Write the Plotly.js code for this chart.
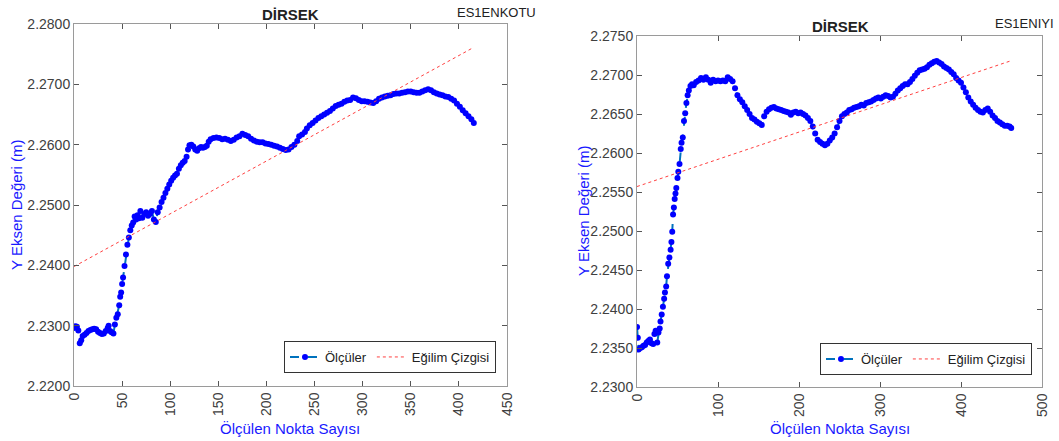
<!DOCTYPE html>
<html>
<head>
<meta charset="utf-8">
<script src="https://cdn.plot.ly/plotly-3.0.1.min.js"></script>
<style>html,body{margin:0;padding:0;background:#fff;}#chart{width:1059px;height:441px;}</style>
</head>
<body>
<div id="chart"></div>
<script>
// ---- Left chart (ES1ENKOTU) ----
const leftX = [0,1.5,3,4.5,6,7.5,9,11,13,15,17,19,21,23,25,27,29,31,33,35,36,37.5,39,41,42.5,44,45.5,47,48,49,50,51,52.5,54,55.5,57,58.5,60,61.5,63,64.5,66,67.5,69,71,73,75,77,79,81,83,85,87,89,91,93,95,97,99,101,103,105,107,109,111,113,115,117,118.5,120,122,124,126,128,130,132,134,136,138,140,142,145,148,151,154,157,160,163,166,169,172,175,178,181,184,187,190,193,196,199,202,205,208,211,214,217,220,223,226,229,232,234,237,240,242,245,248,251,254,257,260,263,266,269,272,275,278,281,284,287,290,293,296,299,302,305,308,311,314,317,320,323,326,329,332,335,338,341,344,347,350,353,356,359,362,365,368,371,374,377,380,383,386,389,392,395,398,401,404,407,410,413,415.5];
const leftY = [2.2296,2.2299,2.2298,2.2292,2.2271,2.2276,2.2283,2.2285,2.2288,2.2291,2.2293,2.2294,2.2295,2.2294,2.2290,2.2288,2.2286,2.2287,2.2291,2.2296,2.2300,2.2291,2.2289,2.2287,2.2302,2.2313,2.2319,2.2334,2.2348,2.2355,2.2369,2.2380,2.2399,2.2418,2.2434,2.2446,2.2458,2.2466,2.2471,2.2481,2.2476,2.2483,2.2478,2.2490,2.2479,2.2485,2.2488,2.2482,2.2485,2.2490,2.2476,2.2472,2.2488,2.2496,2.2505,2.2512,2.2520,2.2527,2.2534,2.2540,2.2545,2.2549,2.2552,2.2560,2.2566,2.2570,2.2573,2.2580,2.2592,2.2599,2.2600,2.2597,2.2592,2.2590,2.2594,2.2596,2.2595,2.2596,2.2598,2.2605,2.2609,2.2611,2.2612,2.2611,2.2609,2.2610,2.2608,2.2606,2.2608,2.2612,2.2614,2.2618,2.2616,2.2614,2.2610,2.2607,2.2605,2.2604,2.2604,2.2602,2.2601,2.2600,2.2598,2.2597,2.2595,2.2593,2.2591,2.2592,2.2596,2.2600,2.2606,2.2614,2.2617,2.2621,2.2627,2.2632,2.2636,2.2640,2.2644,2.2647,2.2650,2.2653,2.2656,2.2660,2.2664,2.2666,2.2668,2.2671,2.2673,2.2674,2.2678,2.2677,2.2674,2.2672,2.2672,2.2671,2.2670,2.2669,2.2672,2.2676,2.2678,2.2680,2.2681,2.2682,2.2684,2.2685,2.2685,2.2686,2.2687,2.2688,2.2688,2.2687,2.2686,2.2686,2.2688,2.2690,2.2692,2.2690,2.2687,2.2685,2.2683,2.2682,2.2680,2.2679,2.2676,2.2673,2.2668,2.2663,2.2657,2.2652,2.2647,2.2642,2.2636];
const leftTrendX = [0, 414];
const leftTrendY = [2.2398, 2.2760];
const leftYTicks = [2.22,2.23,2.24,2.25,2.26,2.27,2.28];
const leftXTicks = [0,50,100,150,200,250,300,350,400,450];

// ---- Right chart (ES1ENIYI) ----
const rightX = [0,1,2,4,6,8,10,12,14,16,18,20,21.5,23,25,26.5,28,29,30.5,32,33.5,34.5,36,37,38.5,40,41.5,42.5,43.5,44.5,45.5,46.5,47.5,48.5,50,51,52.5,54,55,56.5,58,59.5,61,62.5,64,66,68,70,73,76,79,82,85,88,91,94,97,100,103,106,109,112,115,118,121,124,127,130,133,136,139,142,145,148,151,154,157,160,163,166,169,172,175,178,181,184,187,190,193,196,199,202,205,208,211,214,217,220,223,226,229,232,235,238,241,244,247,250,253,256,259,262,265,268,271,274,277,280,283,286,289,292,295,298,301,304,307,310,313,316,319,322,325,328,331,334,337,340,343,346,349,352,355,358,361,364,367,370,373,376,379,382,385,388,391,394,397,400,403,406,409,412,415,418,421,424,427,430,433,436,439,442,445,448,451,454,457,460,462];
const rightY = [2.2377,2.2363,2.2348,2.2350,2.2351,2.2353,2.2354,2.2357,2.2359,2.2361,2.2356,2.2355,2.2368,2.2372,2.2357,2.2370,2.2375,2.2384,2.2393,2.2403,2.2413,2.2421,2.2429,2.2442,2.2458,2.2466,2.2476,2.2486,2.2499,2.2521,2.2530,2.2541,2.2548,2.2555,2.2568,2.2576,2.2586,2.2605,2.2613,2.2620,2.2641,2.2651,2.2664,2.2674,2.2680,2.2686,2.2688,2.2687,2.2691,2.2693,2.2696,2.2694,2.2697,2.2694,2.2690,2.2694,2.2692,2.2693,2.2692,2.2693,2.2692,2.2697,2.2695,2.2692,2.2683,2.2674,2.2669,2.2665,2.2660,2.2655,2.2650,2.2645,2.2643,2.2640,2.2638,2.2636,2.2647,2.2653,2.2656,2.2658,2.2659,2.2657,2.2656,2.2655,2.2654,2.2653,2.2652,2.2649,2.2652,2.2653,2.2651,2.2652,2.2650,2.2648,2.2645,2.2641,2.2634,2.2625,2.2617,2.2614,2.2612,2.2610,2.2612,2.2616,2.2620,2.2625,2.2633,2.2641,2.2647,2.2650,2.2652,2.2655,2.2656,2.2658,2.2659,2.2660,2.2662,2.2661,2.2664,2.2665,2.2666,2.2668,2.2670,2.2671,2.2670,2.2672,2.2674,2.2673,2.2671,2.2672,2.2676,2.2680,2.2683,2.2686,2.2688,2.2688,2.2691,2.2695,2.2699,2.2703,2.2706,2.2707,2.2708,2.2710,2.2713,2.2715,2.2717,2.2718,2.2716,2.2714,2.2711,2.2709,2.2707,2.2704,2.2701,2.2696,2.2693,2.2690,2.2684,2.2678,2.2671,2.2666,2.2662,2.2658,2.2655,2.2653,2.2652,2.2655,2.2657,2.2653,2.2648,2.2645,2.2641,2.2639,2.2637,2.2635,2.2635,2.2634,2.2632];
const rightTrendX = [0, 461];
const rightTrendY = [2.2557, 2.2718];
const rightYTicks = [2.23,2.235,2.24,2.245,2.25,2.255,2.26,2.265,2.27,2.275];
const rightXTicks = [0,100,200,300,400,500];

const FONT = 'Arial, "Liberation Sans", sans-serif';
const measName = 'Ölçüler';
const trendName = 'Eğilim Çizgisi';

function measTrace(x, y, xa, ya, lg) {
  return {x:x, y:y, xaxis:xa, yaxis:ya, legend:lg, type:'scatter', mode:'lines+markers', name:measName,
    line:{color:'#0072BD', width:2, dash:'dash'}, marker:{color:'#0000FF', size:6}};
}
function trendTrace(x, y, xa, ya, lg) {
  return {x:x, y:y, xaxis:xa, yaxis:ya, legend:lg, type:'scatter', mode:'lines', name:trendName,
    line:{color:'#FF4040', width:1, dash:'dot'}};
}

const data = [
  measTrace(leftX, leftY, 'x', 'y', 'legend'),
  trendTrace(leftTrendX, leftTrendY, 'x', 'y', 'legend'),
  measTrace(rightX, rightY, 'x2', 'y2', 'legend2'),
  trendTrace(rightTrendX, rightTrendY, 'x2', 'y2', 'legend2')
];

const W = 1059, H = 441;
function px(v){return v/W;}
function py(v){return 1 - v/H;}

const axisBase = {showgrid:false, zeroline:false, showline:true, mirror:'ticks', linecolor:'#9a9a9a', linewidth:1,
  ticks:'inside', ticklen:5, tickcolor:'#555', tickfont:{family:FONT, size:14, color:'#404040'}};

function ann(text, x, y, size, color, extra) {
  return Object.assign({text:text, x:px(x), y:py(y), xref:'paper', yref:'paper', xanchor:'center', yanchor:'middle',
    showarrow:false, font:{family:FONT, size:size, color:color}}, extra || {});
}

const layout = {
  width:W, height:H, margin:{l:0,r:0,t:0,b:0}, paper_bgcolor:'#fff', plot_bgcolor:'#fff',
  font:{family:FONT},
  xaxis: Object.assign({}, axisBase, {domain:[px(74), px(507)], range:[0,450], tickvals:leftXTicks, ticktext:leftXTicks.map(String), tickangle:-90, anchor:'y'}),
  yaxis: Object.assign({}, axisBase, {domain:[py(386), py(24)], range:[2.22,2.28], tickvals:leftYTicks, ticktext:leftYTicks.map(v=>v.toFixed(4)), anchor:'x'}),
  xaxis2: Object.assign({}, axisBase, {domain:[px(637), px(1042)], range:[0,500], tickvals:rightXTicks, ticktext:rightXTicks.map(String), tickangle:-90, anchor:'y2'}),
  yaxis2: Object.assign({}, axisBase, {domain:[py(387), py(36)], range:[2.23,2.275], tickvals:rightYTicks, ticktext:rightYTicks.map(v=>v.toFixed(4)), anchor:'x2'}),
  legend: {x:px(496), y:py(373), xanchor:'right', yanchor:'bottom', orientation:'h', bgcolor:'#fff', bordercolor:'#333', borderwidth:1,
    font:{family:FONT, size:13, color:'#222'}, itemwidth:30},
  legend2: {x:px(1032), y:py(375), xanchor:'right', yanchor:'bottom', orientation:'h', bgcolor:'#fff', bordercolor:'#333', borderwidth:1,
    font:{family:FONT, size:13, color:'#222'}, itemwidth:30},
  annotations: [
    ann('<b>DİRSEK</b>', 290, 14, 15, '#222'),
    ann('ES1ENKOTU', 455, 13, 13, '#222', {xanchor:'left'}),
    ann('<b>DİRSEK</b>', 840, 27, 15, '#222'),
    ann('ES1ENIYI', 993, 24, 13, '#222', {xanchor:'left'}),
    ann('Y Eksen Değeri (m)', 16, 205, 15, '#1a1aff', {textangle:-90}),
    ann('Y Eksen Değeri (m)', 583, 211, 15, '#1a1aff', {textangle:-90}),
    ann('Ölçülen Nokta Sayısı', 290, 428, 15, '#1a1aff'),
    ann('Ölçülen Nokta Sayısı', 840, 428, 15, '#1a1aff')
  ],
  showlegend:true
};

Plotly.newPlot('chart', data, layout, {displayModeBar:false, staticPlot:true});
</script>
</body>
</html>
